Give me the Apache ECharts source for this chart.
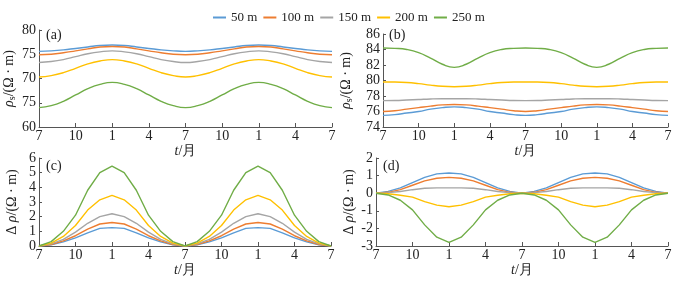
<!DOCTYPE html>
<html>
<head>
<meta charset="utf-8">
<script src="https://cdn.jsdelivr.net/npm/echarts@6/dist/echarts.min.js"></script>
<style>
  html, body { margin: 0; padding: 0; background: #fff; }
  #chart { width: 679px; height: 282px; }
</style>
</head>
<body>
<div id="chart"></div>
<script>
// months from July to July over two years
var months = [7,8,9,10,11,12,1,2,3,4,5,6,7,8,9,10,11,12,1,2,3,4,5,6,7];
var names = ['50 m', '100 m', '150 m', '200 m', '250 m'];
var colors = ['#5b9bd5', '#ed7d31', '#a5a5a5', '#ffc000', '#70ad47'];

// (a) rho_s
var a50  = [75.6,75.7,75.9,76.2,76.5,76.8,76.9,76.8,76.5,76.2,75.9,75.7,75.6,75.7,75.9,76.2,76.5,76.8,76.9,76.8,76.5,76.2,75.9,75.7,75.6];
var a100 = [74.9,75.0,75.3,75.7,76.1,76.5,76.6,76.5,76.1,75.7,75.3,75.0,74.9,75.0,75.3,75.7,76.1,76.5,76.6,76.5,76.1,75.7,75.3,75.0,74.9];
var a150 = [73.3,73.5,73.9,74.5,75.1,75.5,75.7,75.5,75.1,74.5,73.9,73.5,73.3,73.5,73.9,74.5,75.1,75.5,75.7,75.5,75.1,74.5,73.9,73.5,73.3];
var a200 = [70.3,70.6,71.2,72.1,73.0,73.6,73.9,73.6,73.0,72.1,71.2,70.6,70.3,70.6,71.2,72.1,73.0,73.6,73.9,73.6,73.0,72.1,71.2,70.6,70.3];
var a250 = [64.0,64.4,65.3,66.6,67.9,68.8,69.2,68.8,67.9,66.6,65.3,64.4,64.0,64.4,65.3,66.6,67.9,68.8,69.2,68.8,67.9,66.6,65.3,64.4,64.0];

// (b) rho_s
var b50  = [75.5,75.6,75.8,76.0,76.3,76.5,76.6,76.5,76.3,76.0,75.8,75.6,75.5,75.6,75.8,76.0,76.3,76.5,76.6,76.5,76.3,76.0,75.8,75.6,75.5];
var b100 = [76.0,76.1,76.3,76.5,76.7,76.85,76.9,76.85,76.7,76.5,76.3,76.1,76.0,76.1,76.3,76.5,76.7,76.85,76.9,76.85,76.7,76.5,76.3,76.1,76.0];
var b150 = [77.4,77.42,77.48,77.55,77.62,77.65,77.65,77.65,77.62,77.55,77.48,77.42,77.4,77.42,77.48,77.55,77.62,77.65,77.65,77.65,77.62,77.55,77.48,77.42,77.4];
var b200 = [79.8,79.8,79.75,79.6,79.4,79.25,79.2,79.25,79.4,79.6,79.75,79.8,79.8,79.8,79.75,79.6,79.4,79.25,79.2,79.25,79.4,79.6,79.75,79.8,79.8];
var b250 = [84.2,84.15,84.0,83.6,82.9,82.1,81.7,82.1,82.9,83.6,84.0,84.15,84.2,84.15,84.0,83.6,82.9,82.1,81.7,82.1,82.9,83.6,84.0,84.15,84.2];

// (c) delta rho
var c50  = [0,0.08,0.28,0.55,0.9,1.2,1.25,1.2,0.9,0.55,0.28,0.08,0,0.08,0.28,0.55,0.9,1.2,1.25,1.2,0.9,0.55,0.28,0.08,0];
var c100 = [0,0.1,0.35,0.7,1.15,1.5,1.6,1.5,1.15,0.7,0.35,0.1,0,0.1,0.35,0.7,1.15,1.5,1.6,1.5,1.15,0.7,0.35,0.1,0];
var c150 = [0,0.15,0.45,0.95,1.55,2.0,2.2,2.0,1.55,0.95,0.45,0.15,0,0.15,0.45,0.95,1.55,2.0,2.2,2.0,1.55,0.95,0.45,0.15,0];
var c200 = [0,0.2,0.65,1.4,2.45,3.15,3.45,3.15,2.45,1.4,0.65,0.2,0,0.2,0.65,1.4,2.45,3.15,3.45,3.15,2.45,1.4,0.65,0.2,0];
var c250 = [0,0.3,1.0,2.1,3.8,5.0,5.45,5.0,3.8,2.1,1.0,0.3,0,0.3,1.0,2.1,3.8,5.0,5.45,5.0,3.8,2.1,1.0,0.3,0];

// (d) delta rho
var d50  = [0,0.1,0.3,0.6,0.9,1.1,1.15,1.1,0.9,0.6,0.3,0.1,0,0.1,0.3,0.6,0.9,1.1,1.15,1.1,0.9,0.6,0.3,0.1,0];
var d100 = [0,0.05,0.2,0.45,0.7,0.85,0.9,0.85,0.7,0.45,0.2,0.05,0,0.05,0.2,0.45,0.7,0.85,0.9,0.85,0.7,0.45,0.2,0.05,0];
var d150 = [0,0.03,0.1,0.2,0.28,0.3,0.3,0.3,0.28,0.2,0.1,0.03,0,0.03,0.1,0.2,0.28,0.3,0.3,0.3,0.28,0.2,0.1,0.03,0];
var d200 = [0,-0.03,-0.12,-0.22,-0.48,-0.68,-0.77,-0.68,-0.48,-0.22,-0.12,-0.03,0,-0.03,-0.12,-0.22,-0.48,-0.68,-0.77,-0.68,-0.48,-0.22,-0.12,-0.03,0];
var d250 = [0,-0.1,-0.4,-0.95,-1.8,-2.5,-2.8,-2.5,-1.8,-0.95,-0.4,-0.1,0,-0.1,-0.4,-0.95,-1.8,-2.5,-2.8,-2.5,-1.8,-0.95,-0.4,-0.1,0];

var font = "'Liberation Serif', 'Times New Roman', serif";

var panels = [
  { tag: '(a)', grid: {left: 39, top: 30, width: 293, height: 97}, tagPos: [41, 23], min: 60, max: 80, step: 5,
    data: [a50, a100, a150, a200, a250], smooth: true, sub: true, gap: 22 },
  { tag: '(b)', grid: {left: 383, top: 34, width: 285, height: 93}, tagPos: [384, 23], min: 74, max: 86, step: 2,
    data: [b50, b100, b150, b200, b250], smooth: true, sub: true, gap: 29 },
  { tag: '(c)', grid: {left: 39, top: 158, width: 292, height: 88}, tagPos: [41, 154], min: 0, max: 6, step: 1,
    data: [c50, c100, c150, c200, c250], smooth: false, sub: false, gap: 20 },
  { tag: '(d)', grid: {left: 376, top: 158, width: 292, height: 88}, tagPos: [378, 154], min: -3, max: 2, step: 1,
    data: [d50, d100, d150, d200, d250], smooth: false, sub: false, gap: 20 }
];

var rich = {
  i: { fontFamily: font, fontStyle: 'italic', fontSize: 14, color: '#222' },
  s: { fontFamily: font, fontSize: 10, color: '#222', padding: [5, 0, 0, 0] },
  n: { fontFamily: font, fontSize: 14, color: '#222' }
};

var grids = [], xAxes = [], yAxes = [], series = [], titles = [];

panels.forEach(function (p, k) {
  grids.push(Object.assign({ outerBoundsMode: 'none', containLabel: false }, p.grid));
  xAxes.push({
    type: 'value', gridIndex: k, min: 0, max: 24, interval: 3,
    name: '{i|t}{n|/月}', nameLocation: 'middle', nameGap: 13,
    nameTextStyle: { rich: rich },
    axisLine: { onZero: false, lineStyle: { color: '#555', width: 1 } },
    axisTick: { inside: true, length: 4, lineStyle: { color: '#555' } },
    splitLine: { show: false },
    axisLabel: {
      margin: 2, color: '#222', fontFamily: font, fontSize: 14,
      formatter: function (v) { return months[v]; }
    }
  });
  yAxes.push({
    type: 'value', gridIndex: k, min: p.min, max: p.max, interval: p.step,
    name: p.sub ? '{i|ρ}{s|s}{n|/(Ω · m)}' : '{n|Δ }{i|ρ}{n|/(Ω · m)}',
    nameLocation: 'middle', nameRotate: 90, nameGap: p.gap,
    nameTextStyle: { rich: rich },
    axisLine: { show: true, lineStyle: { color: '#555', width: 1 } },
    axisTick: { show: true, inside: true, length: 3, lineStyle: { color: '#555' } },
    splitLine: { show: false },
    axisLabel: {
      margin: 3, color: '#222', fontFamily: font, fontSize: 14,
      formatter: function (v) { return (k === 0 && v === 65) ? '75' : String(v); }
    }
  });
  titles.push({
    text: p.tag, left: p.tagPos[0], top: p.tagPos[1],
    textStyle: { fontFamily: font, fontSize: 14, fontWeight: 'normal', color: '#222' }
  });
  p.data.forEach(function (arr, j) {
    series.push({
      name: names[j], type: 'line', xAxisIndex: k, yAxisIndex: k,
      data: arr.map(function (v, i) { return [i, v]; }),
      smooth: p.smooth, symbol: 'none',
      lineStyle: { color: colors[j], width: 1.4 },
      itemStyle: { color: colors[j] }
    });
  });
});

var chart = echarts.init(document.getElementById('chart'), null, { renderer: 'canvas' });
chart.setOption({
  animation: false,
  color: colors,
  title: titles,
  legend: {
    data: names, top: 6, left: 208, itemWidth: 13, itemHeight: 2, itemGap: 6,
    icon: 'rect',
    textStyle: { fontFamily: font, fontSize: 13, color: '#222' }
  },
  grid: grids,
  xAxis: xAxes,
  yAxis: yAxes,
  series: series
});
</script>
</body>
</html>
